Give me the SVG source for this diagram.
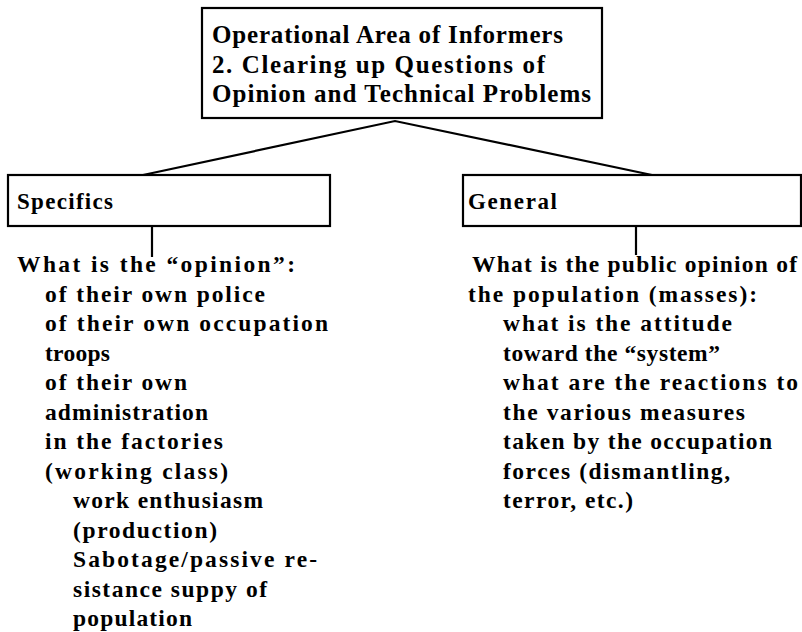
<svg xmlns="http://www.w3.org/2000/svg" width="802" height="632" viewBox="0 0 802 632">
<style>
.box{fill:#fff;stroke:#000;stroke-width:2.2}
.ln{stroke:#000;stroke-width:2.2;fill:none}
text{font-family:"Liberation Serif","Times New Roman",serif;font-weight:bold;fill:#000}
.h{font-size:25px}
.s{font-size:23px}
.b{font-size:23.5px}
</style>
<rect width="802" height="632" fill="#fff"/>
<g id="connectors">
<polyline class="ln" points="143,175 395,121 652,175"/>
<line class="ln" x1="152" y1="226" x2="152" y2="257"/>
<line class="ln" x1="636" y1="226" x2="636" y2="255"/>
</g>
<g id="top">
<rect class="box" x="202" y="8" width="400" height="110"/>
<text class="h" x="212" y="43" textLength="351" lengthAdjust="spacing">Operational Area of Informers</text>
<text class="h" x="212" y="73" textLength="333" lengthAdjust="spacing">2. Clearing up Questions of</text>
<text class="h" x="212" y="102" textLength="379" lengthAdjust="spacing">Opinion and Technical Problems</text>
</g>
<g id="specifics">
<rect class="box" x="8" y="175" width="322" height="51"/>
<text class="s" x="17" y="209" textLength="96" lengthAdjust="spacing">Specifics</text>
</g>
<g id="general">
<rect class="box" x="463" y="175" width="338" height="51"/>
<text class="s" x="468" y="209" textLength="89" lengthAdjust="spacing">General</text>
</g>
<g id="specifics-text">
<text class="b" x="17" y="272" textLength="278" lengthAdjust="spacing">What is the “opinion”:</text>
<text class="b" x="45" y="301.5" textLength="220" lengthAdjust="spacing">of their own police</text>
<text class="b" x="45" y="331" textLength="283" lengthAdjust="spacing">of their own occupation</text>
<text class="b" x="45" y="360.5" textLength="65" lengthAdjust="spacing">troops</text>
<text class="b" x="45" y="390" textLength="142" lengthAdjust="spacing">of their own</text>
<text class="b" x="45" y="419.5" textLength="163" lengthAdjust="spacing">administration</text>
<text class="b" x="45" y="449" textLength="178" lengthAdjust="spacing">in the factories</text>
<text class="b" x="45" y="478.5" textLength="183" lengthAdjust="spacing">(working class)</text>
<text class="b" x="73" y="508" textLength="190" lengthAdjust="spacing">work enthusiasm</text>
<text class="b" x="73" y="537.5" textLength="144" lengthAdjust="spacing">(production)</text>
<text class="b" x="73" y="567" textLength="244" lengthAdjust="spacing">Sabotage/passive re-</text>
<text class="b" x="73" y="596.5" textLength="194" lengthAdjust="spacing">sistance suppy of</text>
<text class="b" x="73" y="626" textLength="119" lengthAdjust="spacing">population</text>
</g>
<g id="general-text">
<text class="b" x="472" y="272" textLength="325" lengthAdjust="spacing">What is the public opinion of</text>
<text class="b" x="468" y="301.5" textLength="289" lengthAdjust="spacing">the population (masses):</text>
<text class="b" x="503" y="331" textLength="229" lengthAdjust="spacing">what is the attitude</text>
<text class="b" x="503" y="360.5" textLength="217" lengthAdjust="spacing">toward the “system”</text>
<text class="b" x="503" y="390" textLength="295" lengthAdjust="spacing">what are the reactions to</text>
<text class="b" x="503" y="419.5" textLength="242" lengthAdjust="spacing">the various measures</text>
<text class="b" x="503" y="449" textLength="269" lengthAdjust="spacing">taken by the occupation</text>
<text class="b" x="503" y="478.5" textLength="227" lengthAdjust="spacing">forces (dismantling,</text>
<text class="b" x="503" y="508" textLength="130" lengthAdjust="spacing">terror, etc.)</text>
</g>
</svg>
